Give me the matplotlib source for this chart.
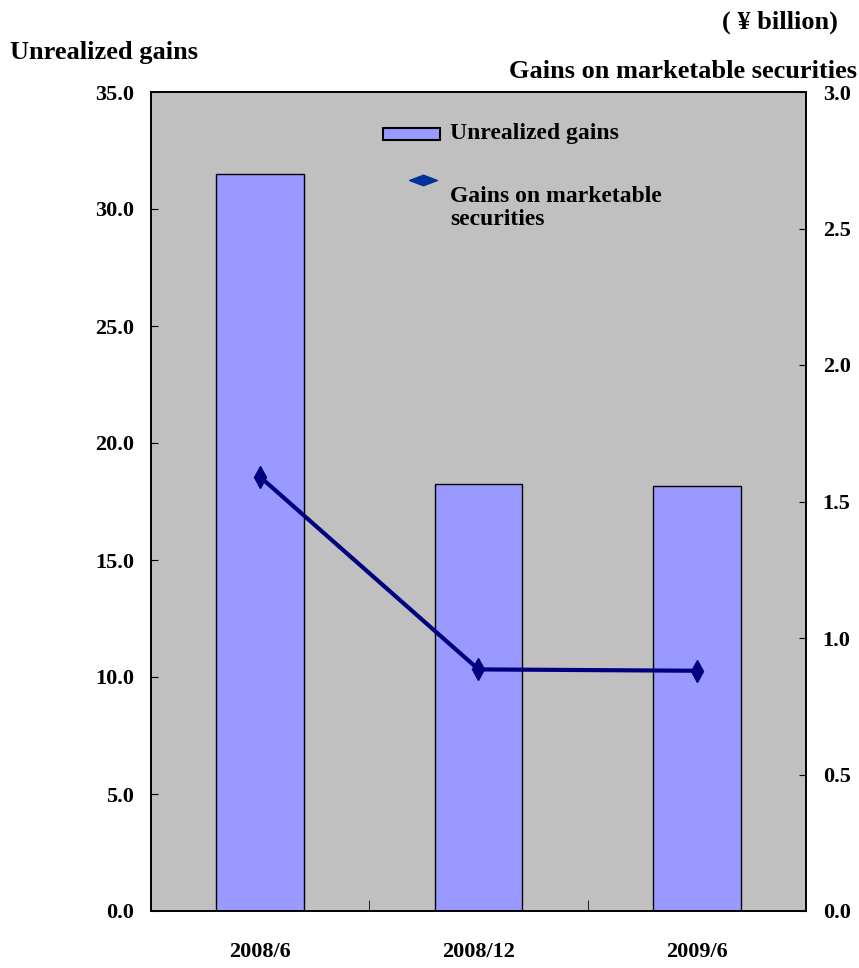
import numpy as np
import matplotlib.pyplot as plt
from matplotlib.patches import Rectangle

# Half-year periods and values (¥ billion)
periods = ['2008/6', '2008/12', '2009/6']
unrealized_gains = [31.5, 18.25, 18.15]
securities_gains = [1.59, 0.885, 0.88]

left_ticks = np.arange(0, 35.1, 5)
right_ticks = np.arange(0, 3.01, 0.5)

bar_color = '#9999ff'
line_color = '#000080'

plt.rcParams['font.family'] = ['Liberation Serif', 'DejaVu Serif']
plt.rcParams['font.weight'] = 'bold'

fig = plt.figure(figsize=(8.59, 9.68), dpi=100)
ax = fig.add_axes([151/859, 1 - 911/968, 655/859, 819/968])
ax.set_facecolor('#c0c0c0')

x = np.arange(len(periods))
ax.bar(x, unrealized_gains, width=0.4, color=bar_color, edgecolor='black',
       linewidth=1, zorder=2)
ax.set_xlim(-0.5, 2.5)
ax.set_ylim(0, 35)
ax.set_yticks(left_ticks)
ax.set_yticklabels([f'{v:.1f}' for v in left_ticks], fontsize=16, fontweight='bold')
ax.tick_params(axis='y', direction='in', length=5, pad=12)

# category labels at centers, tick marks at boundaries
ax.set_xticks(x)
ax.set_xticklabels(periods, fontsize=16, fontweight='bold')
ax.tick_params(axis='x', length=0, pad=22)
ax.set_xticks([0.5, 1.5], minor=True)
ax.tick_params(axis='x', which='minor', direction='in', length=8)

ax2 = ax.twinx()
ax2.plot(x, securities_gains, color=line_color, linewidth=3, marker='d',
         markersize=11, zorder=3)
ax2.set_ylim(0, 3.0)
ax2.set_yticks(right_ticks)
ax2.set_yticklabels([f'{v:.1f}' for v in right_ticks], fontsize=16, fontweight='bold')
ax2.tick_params(axis='y', direction='in', length=5, pad=12)

for a in (ax, ax2):
    for s in a.spines.values():
        s.set_linewidth(1.2)

# legend, laid out by hand in axes fraction
def ax_xy(px, py):
    return (px - 151) / 655, (911 - py) / 819

rx, ry = ax_xy(383, 140)
rw, rh = 57 / 655, 12 / 819
ax2.add_patch(Rectangle((rx, ry), rw, rh, transform=ax2.transAxes,
                        facecolor=bar_color, edgecolor='black', linewidth=1.5,
                        zorder=5))
ax2.text(*ax_xy(450, 134), 'Unrealized gains', transform=ax2.transAxes,
         fontsize=17, fontweight='bold', ha='left', va='center')
flat_diamond = [(-1, 0), (0, 0.38), (1, 0), (0, -0.38), (-1, 0)]
ax2.plot(*ax_xy(423, 180), transform=ax2.transAxes, marker=flat_diamond,
         markersize=20, color='#003399', linestyle='none', zorder=5)
ax2.text(*ax_xy(450, 186), 'Gains on marketable\nsecurities',
         transform=ax2.transAxes, fontsize=17, fontweight='bold', ha='left',
         va='top', linespacing=1.1)

fig.text(10/859, 1 - 52/968, 'Unrealized gains', fontsize=19, fontweight='bold',
         ha='left', va='center')
fig.text(838/859, 1 - 22/968, '( ¥ billion)', fontsize=19, fontweight='bold',
         ha='right', va='center')
fig.text(857/859, 1 - 71/968, 'Gains on marketable securities', fontsize=19,
         fontweight='bold', ha='right', va='center')

fig.savefig('out.png', dpi=100)
